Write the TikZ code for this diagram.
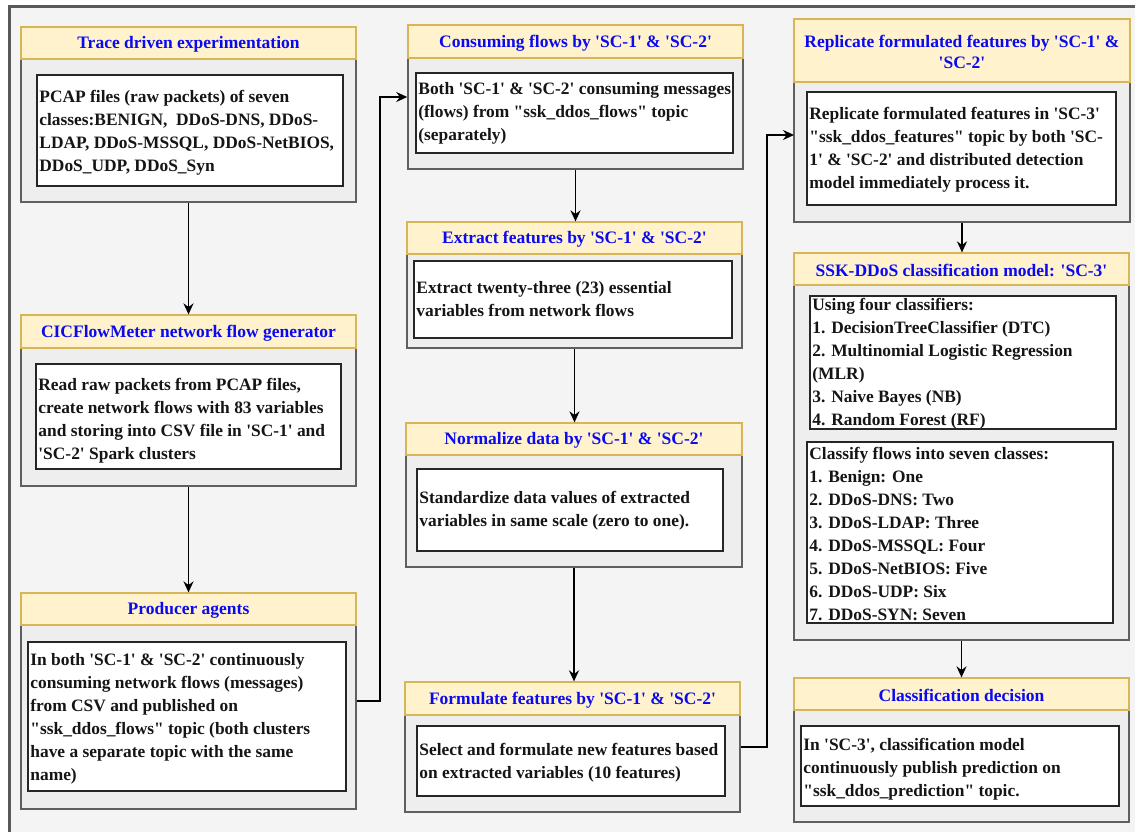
\documentclass[tikz,border=0pt]{standalone}
\usepackage{fontspec}
\setmainfont{Liberation Serif}[Ligatures=TeXOff]
\usetikzlibrary{fit,arrows.meta,calc}
\definecolor{hdrfill}{HTML}{FFF2CC}
\definecolor{hdrline}{HTML}{D6B656}
\definecolor{contfill}{HTML}{EEEEEE}
\definecolor{contline}{HTML}{5F5F5F}
\definecolor{bgfill}{HTML}{F4F4F4}
\definecolor{ttl}{HTML}{0A0AF0}
\definecolor{txtc}{HTML}{151515}
\begin{document}
\begin{tikzpicture}[x=1pt,y=-1pt,
  cont/.style={draw=contline, fill=contfill, line width=1.5pt, inner sep=0pt},
  hdr/.style={draw=hdrline, fill=hdrfill, line width=1.2pt, inner sep=0pt},
  hdrtxt/.style={inner sep=0pt, text=ttl, anchor=center, yshift=-1.5pt,
    font=\bfseries\fontsize{17.5}{21}\selectfont, align=center},
  inbox/.style={draw=black!85, fill=white, line width=1.6pt, inner sep=0pt},
  txt/.style={anchor=west, inner sep=0pt, align=left, text=txtc,
    font=\bfseries\fontsize{17.4}{23}\selectfont},
  conn/.style={line width=1.8pt, draw=black, -{Stealth[length=11pt,width=10pt]}}]
\path[use as bounding box] (0,0) rectangle (1135,832);
\clip (0,0) rectangle (1135,832);
\fill[white] (0,0) rectangle (1135,832);
\draw[line width=3pt, draw=black!65, fill=bgfill] (9,7) rectangle (1150,850);

% ---- column 1
\node[cont, fit={(21,27) (356,202)}] (c1) {};
\node[hdr, fit={(21,27) (356,59)}] (h1) {};
\node[hdrtxt] (h1t) at (h1.center) {Trace driven experimentation};
\node[inbox, fit={(37,75) (343,186)}] (i1) {};
\node[txt] (t1) at ($(i1.west)+(3,2)$) {PCAP files (raw packets) of seven\\classes:BENIGN,\ \ DDoS-DNS, DDoS-\\LDAP, DDoS-MSSQL, DDoS-NetBIOS,\\DDoS\_UDP, DDoS\_Syn};

\node[cont, fit={(21,315) (356,486)}] (c2) {};
\node[hdr, fit={(21,315) (356,348)}] (h2) {};
\node[hdrtxt] (h2t) at (h2.center) {CICFlowMeter network flow generator};
\node[inbox, fit={(36,364) (341,469)}] (i2) {};
\node[txt] (t2) at ($(i2.west)+(3,4)$) {Read raw packets from PCAP files,\\create network flows with 83 variables\\and storing into CSV file in 'SC-1' and\\'SC-2' Spark clusters};

\node[cont, fit={(21,593) (356,809)}] (c3) {};
\node[hdr, fit={(21,593) (356,625)}] (h3) {};
\node[hdrtxt] (h3t) at (h3.center) {Producer agents};
\node[inbox, fit={(28,642) (346,791)}] (i3) {};
\node[txt] (t3) at ($(i3.west)+(3,2)$) {In both 'SC-1' \& 'SC-2' continuously\\consuming network flows (messages)\\from CSV and published on\\"ssk\_ddos\_flows" topic (both clusters\\have a separate topic with the same\\name)};

% ---- column 2
\node[cont, fit={(408,25) (743,169)}] (c4) {};
\node[hdr, fit={(408,25) (743,58)}] (h4) {};
\node[hdrtxt] (h4t) at (h4.center) {Consuming flows by 'SC-1' \& 'SC-2'};
\node[inbox, fit={(416,73) (733,153)}] (i4) {};
\node[txt] (t4) at ($(i4.west)+(3,0)$) {Both 'SC-1' \& 'SC-2' consuming messages\\(flows) from "ssk\_ddos\_flows" topic\\(separately)};

\node[cont, fit={(407,222) (742,348)}] (c5) {};
\node[hdr, fit={(407,222) (742,254)}] (h5) {};
\node[hdrtxt] (h5t) at (h5.center) {Extract features by 'SC-1' \& 'SC-2'};
\node[inbox, fit={(414,261) (732,338)}] (i5) {};
\node[txt] (t5) at ($(i5.west)+(3,0)$) {Extract twenty-three (23) essential\\variables from network flows};

\node[cont, fit={(406,423) (742,567)}] (c6) {};
\node[hdr, fit={(406,423) (742,455)}] (h6) {};
\node[hdrtxt] (h6t) at (h6.center) {Normalize data by 'SC-1' \& 'SC-2'};
\node[inbox, fit={(417,469) (723,551)}] (i6) {};
\node[txt] (t6) at ($(i6.west)+(3,1)$) {Standardize data values of extracted\\variables in same scale (zero to one).};

\node[cont, fit={(405,682) (740,812)}] (c7) {};
\node[hdr, fit={(405,682) (740,715)}] (h7) {};
\node[hdrtxt] (h7t) at (h7.center) {Formulate features by 'SC-1' \& 'SC-2'};
\node[inbox, fit={(417,726) (725,796)}] (i7) {};
\node[txt] (t7) at ($(i7.west)+(3,2)$) {Select and formulate new features based\\on extracted variables (10 features)};

% ---- column 3
\node[cont, fit={(794,19) (1130,222)}] (c8) {};
\node[hdr, fit={(794,19) (1130,82)}] (h8) {};
\node[hdrtxt] (h8t) at (h8.center) {Replicate formulated features by 'SC-1' \&\\'SC-2'};
\node[inbox, fit={(807,92) (1116,205)}] (i8) {};
\node[txt] (t8) at ($(i8.west)+(3,1)$) {Replicate formulated features in 'SC-3'\\"ssk\_ddos\_features" topic by both 'SC-\\1' \& 'SC-2' and distributed detection\\model immediately process it.};

\node[cont, fit={(794,253) (1129,640)}] (c9) {};
\node[hdr, fit={(794,253) (1129,285)}] (h9) {};
\node[hdrtxt] (h9t) at (h9.center) {SSK-DDoS classification model: 'SC-3'};
\node[inbox, fit={(810,296) (1116,429)}] (i9a) {};
\node[txt] (t9a) at ($(i9a.west)+(3,1)$) {Using four classifiers:\\1. DecisionTreeClassifier (DTC)\\2. Multinomial Logistic Regression\\(MLR)\\3. Naive Bayes (NB)\\4. Random Forest (RF)};
\node[inbox, fit={(807,442) (1113,623)}] (i9b) {};
\node[txt] (t9b) at ($(i9b.west)+(3,1)$) {Classify flows into seven classes:\\1. Benign: One\\2. DDoS-DNS: Two\\3. DDoS-LDAP: Three\\4. DDoS-MSSQL: Four\\5. DDoS-NetBIOS: Five\\6. DDoS-UDP: Six\\7. DDoS-SYN: Seven};

\node[cont, fit={(794,678) (1129,822)}] (c10) {};
\node[hdr, fit={(794,678) (1129,710)}] (h10) {};
\node[hdrtxt] (h10t) at (h10.center) {Classification decision};
\node[inbox, fit={(801,726) (1119,806)}] (i10) {};
\node[txt] (t10) at ($(i10.west)+(3,3)$) {In 'SC-3', classification model\\continuously publish prediction on\\"ssk\_ddos\_prediction" topic.};

% ---- connectors
\coordinate (a8) at (794,135);
\draw[conn] (c1.south) -- (c1.south |- h2.north);
\draw[conn] (c2.south) -- (c2.south |- h3.north);
\draw[conn] (c3.east) -- ++(23,0) |- (c4.west);
\draw[conn] (c4.south) -- (c4.south |- h5.north);
\draw[conn] (c5.south) -- (c5.south |- h6.north);
\draw[conn] (c6.south) -- (c6.south |- h7.north);
\draw[conn] (c7.east) -- ++(26,0) |- (a8);
\draw[conn] (c8.south) -- (c8.south |- h9.north);
\draw[conn] (c9.south) -- (c9.south |- h10.north);
\end{tikzpicture}
\end{document}
